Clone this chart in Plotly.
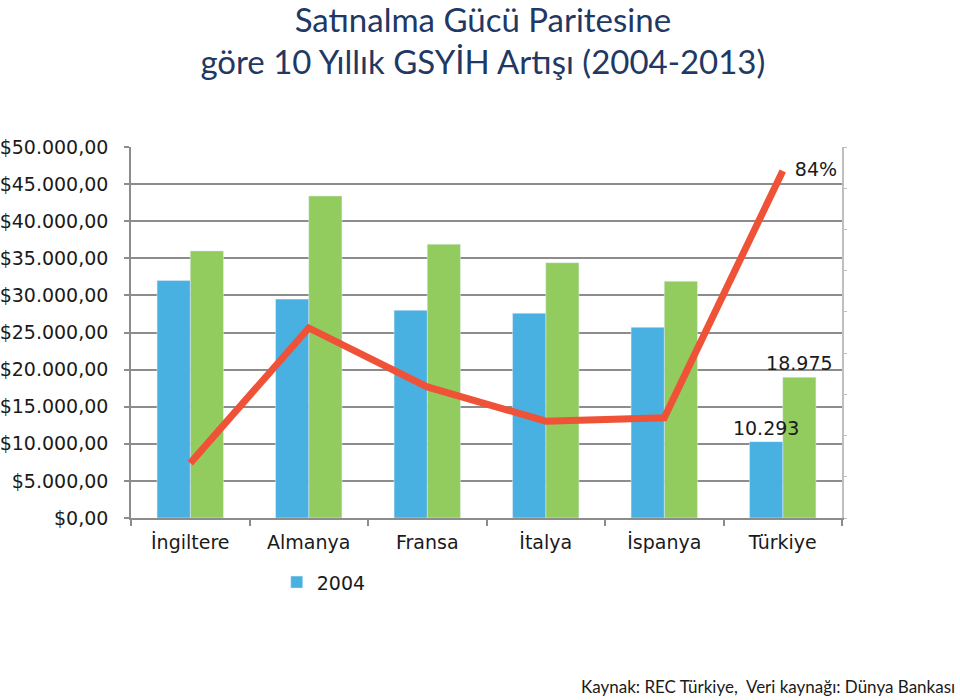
import plotly.graph_objects as go

categories = ["İngiltere", "Almanya", "Fransa", "İtalya", "İspanya", "Türkiye"]
gdp_2004 = [32000, 29500, 28000, 27600, 25700, 10293]
gdp_2013 = [36000, 43400, 36900, 34400, 31900, 18975]
growth_pct = [13.3, 46.1, 31.8, 23.5, 24.3, 84.2]
bar_labels_2004 = ["", "", "", "", "", "10.293"]
bar_labels_2013 = ["", "", "", "", "", "18.975"]
line_labels = ["", "", "", "", "", "\u00a0\u00a084%"]
y_tickvals = [0, 5000, 10000, 15000, 20000, 25000, 30000, 35000, 40000, 45000, 50000]
y_ticktext = ["$0,00", "$5.000,00", "$10.000,00", "$15.000,00", "$20.000,00", "$25.000,00",
              "$30.000,00", "$35.000,00", "$40.000,00", "$45.000,00", "$50.000,00"]

BLUE = "#48B1E2"
GREEN = "#92CB5E"
RED = "#EF5237"
GRID = "#8C8C8C"
TXT = "#1a1a1a"
FONT = "DejaVu Sans"
BAR_W = 0.28

fig = go.Figure()
# green (2013) drawn first so the 2004 label sits on top of it
fig.add_trace(go.Bar(
    x=categories, y=gdp_2013, name="2013", marker_color=GREEN, showlegend=False,
    width=BAR_W, offset=0,
    text=bar_labels_2013, textposition="outside", cliponaxis=False, constraintext="none",
    textfont=dict(family=FONT, size=19, color=TXT),
))
fig.add_trace(go.Bar(
    x=categories, y=gdp_2004, name="2004", marker_color=BLUE,
    width=BAR_W, offset=-BAR_W,
    text=bar_labels_2004, textposition="outside", cliponaxis=False, constraintext="none",
    textfont=dict(family=FONT, size=19, color=TXT),
))
fig.add_trace(go.Scatter(
    x=categories, y=growth_pct, yaxis="y2", mode="lines+text", name="Artış",
    line=dict(color=RED, width=7), showlegend=False,
    text=line_labels, textposition="middle right", cliponaxis=False,
    textfont=dict(family=FONT, size=19, color=TXT),
))

fig.update_layout(
    width=960, height=700,
    margin=dict(l=131, r=118, t=147, b=182),
    paper_bgcolor="white", plot_bgcolor="white",
    barmode="overlay",
    title=dict(
        text="Satınalma Gücü Paritesine<br>göre 10 Yıllık GSYİH Artışı (2004-2013)",
        x=0.503, xanchor="center", y=0.955, yanchor="top",
        font=dict(family="Lato", size=33, color="#1F3864"),
    ),
    xaxis=dict(
        showgrid=False, showline=True, linecolor=GRID, linewidth=1.5,
        ticks="outside", tickson="boundaries", ticklen=6, tickcolor=GRID, tickwidth=1.5,
        tickfont=dict(family=FONT, size=19, color=TXT),
        ticklabelstandoff=6,
    ),
    yaxis=dict(
        range=[0, 50000], tickvals=y_tickvals, ticktext=y_ticktext,
        showgrid=True, gridcolor=GRID, gridwidth=1.5,
        showline=True, linecolor=GRID, linewidth=1.5,
        ticks="outside", ticklen=5, tickcolor=GRID, tickwidth=1.5,
        tickfont=dict(family=FONT, size=19, color=TXT),
        ticklabelstandoff=12, zeroline=False, automargin=False,
    ),
    yaxis2=dict(
        overlaying="y", side="right", range=[0, 90], dtick=10,
        showgrid=False, showline=True, linecolor="#BFBFBF", linewidth=1.5,
        ticks="outside", ticklen=3, tickcolor="#BFBFBF", showticklabels=False,
        zeroline=False,
    ),
    legend=dict(
        orientation="h", x=0.205, xanchor="left", y=-0.122, yanchor="top",
        font=dict(family=FONT, size=19, color=TXT),
        bgcolor="rgba(0,0,0,0)",
    ),
    annotations=[dict(
        text="Kaynak: REC Türkiye,  Veri kaynağı: Dünya Bankası",
        xref="paper", yref="paper", x=1.162, y=-0.487, xanchor="right", yanchor="bottom",
        showarrow=False, font=dict(family="Lato", size=17, color=TXT),
    )],
)

fig.write_html("out.html")
